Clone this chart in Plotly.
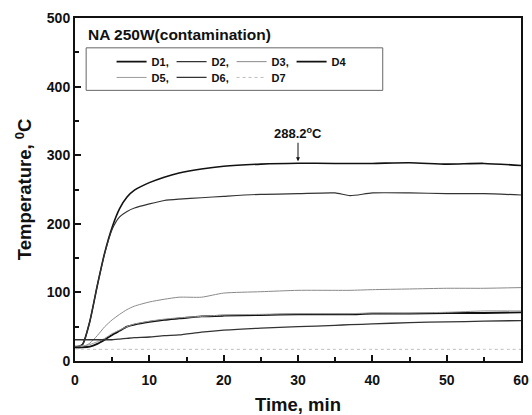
import plotly.graph_objects as go

# Time axis (min) and temperature readings (°C) for each sensor
time_min = [0, 1, 2, 3, 4, 5, 6, 7, 8, 10, 12, 14, 17, 20, 25, 30, 35, 37, 40, 45, 50, 55, 60]
d1 = [20, 24, 58, 110, 158, 195, 222, 239, 249, 260, 268, 274, 280, 284, 287, 288.2, 288, 288, 288, 289, 287, 288, 285]
d2 = [20, 24, 58, 110, 157, 192, 210, 218, 223, 229, 234, 236, 238, 240, 243, 244, 245, 241, 245, 245, 244, 244, 242]
d3 = [18, 20, 26, 37, 50, 60, 68, 75, 80, 86, 90, 93, 93, 99, 101, 103, 103, 103, 104, 105, 106, 106, 107]
d4 = [20, 20, 21, 25, 31, 38, 44, 50, 53, 57, 60, 62, 65, 66, 67, 68, 68, 68, 69, 69, 70, 70, 71]
d5 = [22, 22, 24, 28, 33, 40, 45, 50, 54, 58, 61, 63, 65, 67, 68, 69, 69, 69, 70, 70, 71, 73, 73]
d6 = [31, 31, 31, 31, 31, 31, 32, 33, 34, 35, 37, 38, 42, 45, 48, 50, 52, 53, 54, 56, 57, 58, 59]
d7 = [18, 17, 17, 17, 17, 17, 17, 17, 17, 17, 17, 17, 17, 17, 17, 17, 17, 17, 17, 17, 17, 17, 17]

names = ["D1,", "D2,", "D3,", "D4", "D5,", "D6,", "D7"]
series = [d1, d2, d3, d4, d5, d6, d7]
legend_ids = ["legend", "legend", "legend", "legend", "legend2", "legend2", "legend2"]
styles = [
    dict(color="#111111", width=1.6, dash="solid"),
    dict(color="#333333", width=1.2, dash="solid"),
    dict(color="#8a8a8a", width=1.0, dash="solid"),
    dict(color="#111111", width=1.8, dash="solid"),
    dict(color="#9a9a9a", width=1.0, dash="solid"),
    dict(color="#333333", width=1.3, dash="solid"),
    dict(color="#bdbdbd", width=1.0, dash="dot"),
]

peak_time = 30
peak_value = 288.2

fig = go.Figure()
for name, ys, st, lg in zip(names, series, styles, legend_ids):
    fig.add_trace(go.Scatter(x=time_min, y=ys, mode="lines", name=name, legend=lg,
                             line=dict(shape="spline", smoothing=0.6, **st)))

font_family = "Liberation Sans, Arial, sans-serif"

# peak label with a downward arrow
fig.add_annotation(x=peak_time, y=peak_value + 3, text=f"{peak_value}<sup>o</sup>C",
                   showarrow=True, arrowhead=2, arrowsize=0.8, arrowwidth=1, arrowcolor="#111",
                   ax=0, ay=-28, font=dict(size=13, color="#111", family=font_family, weight="bold"))
fig.add_annotation(x=0.025, y=0.952, xref="paper", yref="paper", xanchor="left", yanchor="middle",
                   text="NA 250W(contamination)", showarrow=False,
                   font=dict(size=15.5, color="#111", family=font_family, weight="bold"))

# frame around the two-row legend
fig.add_shape(type="rect", xref="paper", yref="paper", x0=0.025, x1=0.690, y0=0.789, y1=0.913,
              line=dict(color="#666", width=1))

axis_common = dict(showline=True, linecolor="#111", linewidth=2, mirror=True,
                   ticks="inside", ticklen=6, tickwidth=1.5, tickcolor="#111",
                   showgrid=False, zeroline=False, automargin=False,
                   tickfont=dict(size=14, color="#111", family=font_family, weight="bold"))

legend_common = dict(orientation="h", xanchor="left", yanchor="top",
                     borderwidth=0, bgcolor="rgba(0,0,0,0)",
                     entrywidth=15, entrywidthmode="pixels", tracegroupgap=0,
                     font=dict(size=11, family=font_family, color="#111", weight="bold"),
                     itemwidth=30, traceorder="normal")

fig.update_layout(
    width=532, height=415,
    margin=dict(l=75, r=11, t=18, b=54),
    paper_bgcolor="white", plot_bgcolor="white",
    font=dict(family=font_family, color="#111"),
    xaxis=dict(range=[0, 60], dtick=10, ticklabelstandoff=5,
               minor=dict(dtick=5, ticks="inside", ticklen=4, tickcolor="#111"),
               title=dict(text="Time, min", font=dict(size=18.5, family=font_family, weight="bold"), standoff=14),
               **axis_common),
    yaxis=dict(range=[0, 500], dtick=100,
               minor=dict(dtick=50, ticks="inside", ticklen=4, tickcolor="#111"),
               title=dict(text="Temperature, <sup>0</sup>C", font=dict(size=18.5, family=font_family, weight="bold"), standoff=10),
               **axis_common),
    legend=dict(x=0.082, y=0.915, **legend_common),
    legend2=dict(x=0.082, y=0.869, **legend_common),
    showlegend=True,
)

fig.write_html("out.html")
